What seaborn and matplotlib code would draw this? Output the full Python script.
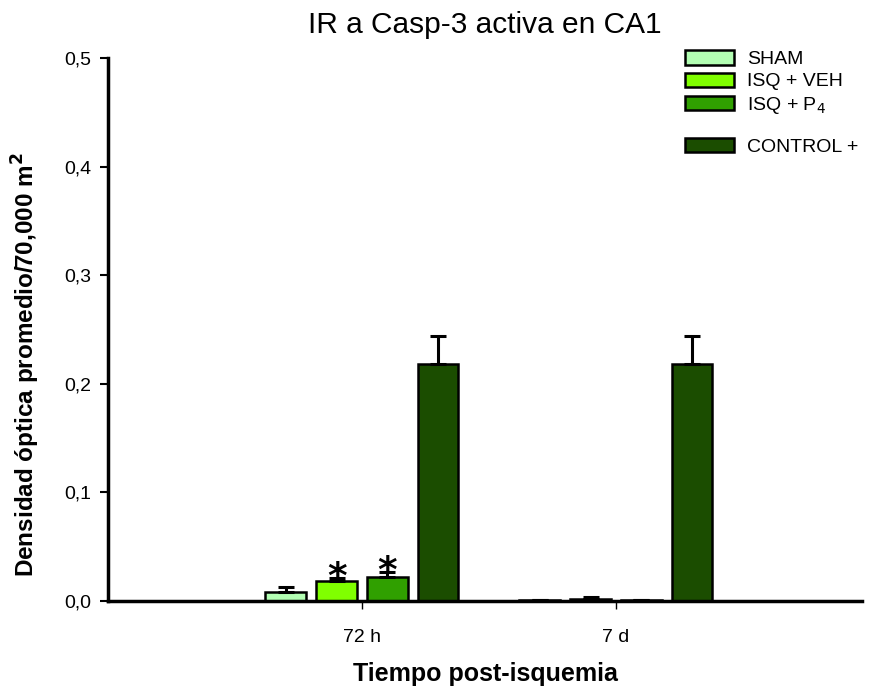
import matplotlib
matplotlib.use("Agg")
import matplotlib.pyplot as plt
import seaborn as sns
import pandas as pd
import numpy as np
from matplotlib.patches import Patch

# Values per group (72 h, 7 d)
times = ["72 h", "7 d"]
groups = ["SHAM", "ISQ + VEH", "ISQ + P$_4$", "CONTROL +"]
sham = [0.008, 0.0005]
isq_veh = [0.018, 0.0015]
isq_p4 = [0.022, 0.0008]
control = [0.218, 0.218]
sham_err = [0.0046, 0.0005]
isq_veh_err = [0.003, 0.002]
isq_p4_err = [0.0045, 0.0005]
control_err = [0.026, 0.026]
significant = {"ISQ + VEH": [True, False], "ISQ + P$_4$": [True, False]}

colors = ["#b3ffb3", "#80ff00", "#30a000", "#1b4d00"]

means = [sham, isq_veh, isq_p4, control]
errs = [sham_err, isq_veh_err, isq_p4_err, control_err]
df = pd.DataFrame({
    "time": [t for _ in groups for t in times],
    "group": [g for g in groups for _ in times],
    "value": [v for m in means for v in m],
})

sns.set_style("white")
plt.rcParams["font.family"] = ["Liberation Sans", "DejaVu Sans"]
plt.rcParams["text.color"] = "black"
plt.rcParams["axes.labelcolor"] = "black"
plt.rcParams["xtick.color"] = "black"
plt.rcParams["ytick.color"] = "black"

fig = plt.figure(figsize=(8.71, 6.90), dpi=100)
ax = fig.add_axes([0.124, 0.129, 0.866, 0.787])

sns.barplot(data=df, x="time", y="value", hue="group", order=times,
            hue_order=groups, palette=colors, saturation=1, width=0.8,
            errorbar=None, edgecolor="black", linewidth=1.8, legend=False,
            ax=ax)

bar_w = 0.16
for cont, g, err in zip(ax.containers, groups, errs):
    for i, patch in enumerate(cont.patches):
        cx = patch.get_x() + patch.get_width() / 2
        patch.set_x(cx - bar_w / 2)
        patch.set_width(bar_w)
        h = patch.get_height()
        ax.errorbar([cx], [h], yerr=[[0], [err[i]]], fmt="none",
                    ecolor="black", elinewidth=2.2, capsize=6, capthick=2.2,
                    zorder=1)
        if g in significant and significant[g][i]:
            ax.text(cx, h + err[i] - 0.0165, "*", ha="center", va="bottom",
                    fontsize=27, fontweight="bold", color="black",
                    family="DejaVu Sans")

ax.set_xlim(-1.0, 1.97)
ax.set_ylim(0, 0.5)
ax.set_yticks(np.arange(0, 0.51, 0.1))
ax.set_yticklabels([f"{v:.1f}".replace(".", ",") for v in np.arange(0, 0.51, 0.1)])

for side in ["top", "right"]:
    ax.spines[side].set_visible(False)
for side in ["left", "bottom"]:
    ax.spines[side].set_linewidth(2.5)
    ax.spines[side].set_color("black")

ax.tick_params(axis="y", direction="out", length=6, width=1.5,
               labelsize=14, left=True, pad=6)
ax.tick_params(axis="x", direction="out", length=6, width=1,
               labelsize=14, bottom=True, pad=14)

ax.set_title("IR a Casp-3 activa en CA1", fontsize=21.5, pad=18)
ax.set_xlabel("Tiempo post-isquemia", fontsize=18, fontweight="bold",
              labelpad=12)
ax.set_ylabel("Densidad óptica promedio/70,000 m$^{\\mathbf{2}}$",
              fontsize=17.5, fontweight="bold")
ax.yaxis.set_label_coords(-0.088, 0.435)

handles = [Patch(facecolor=c, edgecolor="black", linewidth=1.8) for c in colors]
leg_kw = dict(frameon=False, fontsize=14, handlelength=2.5, handleheight=0.75,
              handletextpad=0.7, borderpad=0, borderaxespad=0)
leg1 = ax.legend(handles[:3], groups[:3], loc="upper left",
                 bbox_to_anchor=(0.765, 1.014), labelspacing=0.22, **leg_kw)
ax.add_artist(leg1)
ax.legend(handles[3:], groups[3:], loc="upper left",
          bbox_to_anchor=(0.765, 0.853), **leg_kw)

fig.savefig("out.png", dpi=100)
